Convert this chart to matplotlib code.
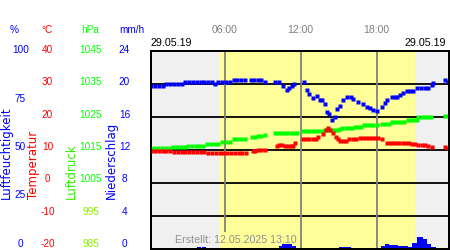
import matplotlib
matplotlib.use("Agg")
import matplotlib.pyplot as plt
from matplotlib.path import Path

# ---------------- data (hours of day 29.05.19) ----------------
hum_t = [0.2, 0.5, 0.8, 1.1, 1.4, 1.7, 2.0, 2.3, 2.6, 2.9, 3.2, 3.5, 3.8, 4.1, 4.4, 4.7, 5.0,
         5.2, 5.5, 5.8, 6.1, 6.4, 6.7, 7.0, 7.3, 7.6, 8.1, 8.35, 8.6, 8.9, 9.2,
         10.0, 10.3, 10.6, 10.9, 11.1, 11.3, 11.5, 12.3, 12.5, 12.7, 13.0, 13.3, 13.5, 13.7,
         13.95, 14.1, 14.24, 14.47, 14.71, 14.87, 15.10, 15.34, 15.66, 15.97, 16.13, 16.52,
         16.92, 17.24, 17.47, 17.71, 18.02, 18.42, 18.66, 18.81, 19.21, 19.45, 19.60, 19.84,
         20.07, 20.39, 20.65, 20.86, 21.18, 21.5, 21.8, 22.1, 22.36, 22.44, 23.39, 23.63]
hum_pct = [82, 82, 82, 82, 83, 83, 83, 83, 83, 84, 84, 84, 84, 84, 84, 84, 84,
           83, 84, 84, 84, 84, 85, 85, 85, 85, 85, 85, 85, 85, 84,
           84, 84, 82, 80, 81, 82, 83, 84, 80, 78, 76, 77, 75, 75,
           73, 69, 68, 65, 66.4, 70.5, 72, 75, 76.5, 76.5, 75.5, 74,
           73, 71.5, 71, 70, 69.4, 71.5, 73.5, 75, 76.5, 76.5, 76.5, 77.5,
           78.5, 79.5, 79.5, 79.5, 81, 81, 81, 81, 82.6, 83.6, 85, 84]

temp_t = [0.2, 0.5, 0.8, 1.1, 1.4, 1.7, 2.0, 2.3, 2.6, 2.9, 3.2, 3.5, 3.8, 4.1, 4.4,
          4.7, 5.0, 5.3, 5.6, 5.9, 6.2, 6.5, 6.8, 7.1, 7.4, 7.65, 8.2, 8.4, 8.65, 8.9, 9.18,
          10.13, 10.3, 10.52, 10.76, 11.0, 11.2, 11.4, 11.55, 12.2, 12.45, 12.7, 12.95, 13.2,
          13.4, 13.76, 14.0, 14.2, 14.35, 14.55, 14.8, 14.95, 15.1, 15.34, 15.6, 15.85, 16.1,
          16.4, 16.65, 16.9, 17.15, 17.4, 17.65, 17.9, 18.1, 18.42, 18.8, 19.05, 19.3, 19.55,
          19.8, 20.05, 20.3, 20.55, 20.8, 21.05, 21.3, 21.55, 21.8, 22.05, 22.36, 23.39, 23.63]
temp_c = [9.6, 9.6, 9.6, 9.6, 9.6, 9.6, 9.2, 9.2, 9.2, 9.2, 9.2, 9.2, 9.2, 9.2, 9.2,
          8.8, 8.8, 8.8, 8.8, 8.8, 8.8, 8.8, 8.8, 8.8, 8.8, 9.0, 9.5, 9.5, 9.8, 9.8, 10.0,
          11.0, 11.5, 11.5, 11.2, 11.2, 11.2, 11.2, 11.9, 13.3, 13.3, 13.3, 13.3, 13.3,
          13.7, 14.7, 16.0, 16.4, 16.0, 15.0, 13.9, 13.3, 12.7, 12.7, 12.7, 13.1, 13.1,
          13.1, 13.4, 13.4, 13.5, 13.5, 13.5, 13.5, 13.5, 13.1, 12.1, 12.1, 12.1, 12.1,
          12.1, 12.1, 12.1, 12.0, 11.8, 11.6, 11.4, 11.4, 11.3, 11.2, 10.7, 10.8, 10.4]

pres_t = [0.2, 0.45, 0.75, 1.05, 1.35, 1.65, 1.95, 2.25, 2.55, 2.85, 3.1, 3.4, 3.7, 4.0, 4.3,
          4.6, 4.9, 5.2, 5.45, 5.8, 6.1, 6.4, 6.7, 7.0, 7.3, 7.6, 8.15, 8.4, 8.65, 8.9, 9.2,
          9.95, 10.2, 10.45, 10.7, 10.95, 11.2, 11.45, 11.7, 12.2, 12.45, 12.7, 12.95, 13.2,
          13.45, 13.75, 13.95, 14.2, 14.45, 14.7, 14.95, 15.1, 15.3, 15.55, 15.8, 16.05, 16.3,
          16.55, 16.8, 17.0, 17.25, 17.5, 17.75, 18.0, 18.45, 18.7, 18.95, 19.2, 19.45, 19.7,
          19.95, 20.2, 20.45, 20.7, 20.95, 21.2, 21.3, 21.55, 21.8, 22.05, 22.3, 23.4, 23.65]
pres_hpa = [1015.2, 1015.5, 1015.5, 1015.5, 1015.5, 1015.5, 1015.8, 1015.8, 1015.8, 1015.8,
            1016.2, 1016.2, 1016.2, 1016.2, 1016.2, 1016.7, 1016.7, 1016.7, 1016.7, 1017.4,
            1017.4, 1017.4, 1018.2, 1018.2, 1018.2, 1018.1, 1018.9, 1018.9, 1019.2, 1019.2,
            1019.5, 1019.9, 1019.9, 1019.9, 1020.0, 1020.1, 1020.1, 1020.1, 1020.1, 1020.5,
            1020.5, 1020.5, 1020.5, 1020.5, 1020.5, 1020.5, 1020.9, 1020.9, 1020.9, 1020.9,
            1020.9, 1021.1, 1021.6, 1021.6, 1021.6, 1021.6, 1021.9, 1021.9, 1021.9, 1022.4,
            1022.4, 1022.4, 1022.4, 1022.4, 1022.8, 1022.8, 1022.8, 1023.4, 1023.4, 1023.4,
            1023.4, 1023.4, 1023.9, 1023.9, 1023.9, 1023.9, 1024.8, 1024.8, 1024.8, 1024.8,
            1024.8, 1025.2, 1025.2]

rain_t = [3.83, 4.0, 4.17, 4.33,
          10.33, 10.5, 10.67, 10.83, 11.0, 11.17, 11.33, 11.5,
          15.0, 15.17, 15.33, 15.5, 15.67, 15.83,
          18.33, 18.5, 18.67, 18.83, 19.0, 19.17, 19.33, 19.5, 19.67, 19.83, 20.0, 20.17,
          20.33, 20.5, 20.67, 20.83, 21.0, 21.17, 21.33, 21.5, 21.67, 21.83, 22.0, 22.17,
          22.33, 22.5]
rain_mm = [0.2, 0.2, 0.2, 0.2,
           0.3, 0.6, 0.6, 0.6, 0.6, 0.6, 0.3, 0.3,
           0.15, 0.15, 0.15, 0.15, 0.15, 0.15,
           0.3, 0.3, 0.6, 0.6, 0.4, 0.4, 0.4, 0.4, 0.3, 0.3, 0.3, 0.3,
           0.3, 0.2, 0.2, 0.7, 0.7, 1.4, 1.4, 1.4, 1.1, 1.1, 0.5, 0.5,
           0.2, 0.2]

sunrise, sunset = 5.57, 21.05
hour_lines = [6, 12, 18]
hour_labels = ["06:00", "12:00", "18:00"]
date_label = "29.05.19"
created = "Erstellt: 12.05.2025 13:10"

hum_ticks = [0, 25, 50, 75, 100]
temp_ticks = [-20, -10, 0, 10, 20, 30, 40]
pres_ticks = [985, 995, 1005, 1015, 1025, 1035, 1045]
rain_ticks = [0, 4, 8, 12, 16, 20, 24]

# ---------------- styling ----------------
plt.rcParams['font.family'] = ['Liberation Sans', 'DejaVu Sans']
BLUE, RED, GREEN = "#0000ff", "#ff0000", "#00ff00"
rect = Path([(-1, -0.7), (1, -0.7), (1, 0.7), (-1, 0.7), (-1, -0.7)])
MS = 3.4

fig = plt.figure(figsize=(4.5, 2.5), dpi=100)
pos = [150.5 / 450, 1.5 / 250, 298.5 / 450, 198 / 250]
ax = fig.add_axes(pos)
ax.set_xlim(0.14, 23.72)
ax.set_ylim(-20, 40)
ax.set_facecolor("#f0f0f0")
ax.axvspan(sunrise, sunset, color="#ffff99", lw=0, zorder=0)
for v in temp_ticks[1:-1]:
    ax.axhline(v, color="black", lw=1.3, zorder=1)
for h in hour_lines:
    ymin = 0.088 if h == 6 else 0
    ax.axvline(h, ymin=ymin, color="#808080", lw=1.3, zorder=1)
ax.set_xticks([])
ax.set_yticks([])
for s in ax.spines.values():
    s.set_linewidth(1.4)

def twin(lims):
    a = ax.twinx()
    a.set_ylim(*lims)
    a.set_yticks([])
    a.set_xticks([])
    for s in a.spines.values():
        s.set_linewidth(1.4)
    return a

ax_p = twin((985, 1045))
ax_p.plot(pres_t, pres_hpa, ls="none", marker=rect, ms=MS, color=GREEN, mec="none")
ax_t = twin((-20, 40))
ax_t.plot(temp_t, temp_c, ls="none", marker=rect, ms=MS, color=RED, mec="none")
ax_h = twin((0, 100))
ax_h.plot(hum_t, hum_pct, ls="none", marker=rect, ms=MS, color=BLUE, mec="none")
ax_r = twin((0, 24))
ax_r.bar(rain_t, rain_mm, width=1 / 6, align="edge", color=BLUE, lw=0)
ax_r.set_xlim(0.14, 23.72)

# time labels and dates above the plot
for h, lab in zip(hour_lines, hour_labels):
    ax_r.text(h, 1.1035, lab, transform=ax_r.get_xaxis_transform(), ha="center",
              va="center", color="#808080", fontsize=7.5)
ax_r.text(0.0, 1.037, date_label, transform=ax_r.transAxes, ha="left", va="center",
          color="black", fontsize=7.7)
ax_r.text(0.99, 1.037, date_label, transform=ax_r.transAxes, ha="right", va="center",
          color="black", fontsize=7.7)

fig.text(175 / 450, (250 - 240) / 250, created, ha="left", va="center",
         color="#909090", fontsize=7.7, zorder=10)

# left-hand scales
lab_pos = [0, 6 / 250, 150 / 450, 194 / 250]
def label_axes(lims):
    a = fig.add_axes(lab_pos)
    a.set_xlim(0, 150)
    a.set_ylim(*lims)
    a.axis("off")
    return a

for lims, ticks, xc, col in [((0, 100), hum_ticks, 20.5, BLUE),
                             ((-20, 40), temp_ticks, 47.5, RED),
                             ((985, 1045), pres_ticks, 91, GREEN),
                             ((0, 24), rain_ticks, 124.5, BLUE)]:
    la = label_axes(lims)
    for t in ticks:
        c = col
        if lims[0] == 985 and t < 1000:
            c = "#88ee00"
        la.text(xc, t, str(t), ha="center", va="center", color=c, fontsize=7.2)

for txt, xc, col in [("%", 14, BLUE), ("°C", 47, RED), ("hPa", 90, GREEN), ("mm/h", 132, BLUE)]:
    fig.text(xc / 450, (250 - 30) / 250, txt, ha="center", va="center", color=col,
             fontsize=7.2)

for txt, xc, col in [("Luftfeuchtigkeit", 6.5, BLUE), ("Temperatur", 33.5, RED),
                     ("Luftdruck", 71, "#33ee00"), ("Niederschlag", 111.5, BLUE)]:
    fig.text(xc / 450, (250 - 199) / 250, txt, rotation=90, ha="center", va="bottom",
             color=col, fontsize=8.5, family=["DejaVu Sans"])

fig.savefig("out.png", dpi=100)
